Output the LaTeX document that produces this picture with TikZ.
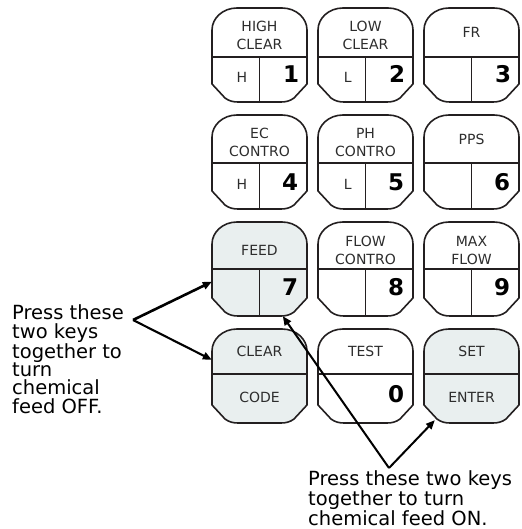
\documentclass[tikz,border=0pt]{standalone}
\usepackage{fontspec}
\setmainfont{DejaVu Sans}
\usetikzlibrary{calc,arrows.meta}
\definecolor{keyfill}{RGB}{233,239,239}
\definecolor{ink}{RGB}{35,31,32}
\definecolor{labelgray}{RGB}{45,45,45}
\tikzset{
  keybody/.style={minimum width=95pt,minimum height=94pt,inner sep=0pt,draw=none},
  keyline/.style={draw=ink,line width=1.6pt,line join=round},
  toplab/.style={font=\fontsize{14}{18}\selectfont,text=labelgray,align=center,inner sep=0pt,anchor=base},
  letlab/.style={font=\fontsize{14}{18}\selectfont,text=labelgray,inner sep=0pt,anchor=base},
  numlab/.style={font=\fontsize{23}{23}\selectfont\bfseries,text=black,inner sep=0pt,anchor=base east},
  callout/.style={font=\fontsize{19.5}{18.3}\selectfont,text=black,align=left,inner sep=0pt,anchor=base west},
  arr/.style={-{Triangle[length=9pt,width=7.5pt]},line width=2pt,draw=black}
}
% name, x, y (top-left), fill, divider offset
\newcommand\mykey[5]{%
  \node[keybody] (#1) at (#2+47.5,#3+47) {};
  \begin{scope}[shift={(#2,#3)}]
    \filldraw[keyline,fill=#4] (25,0) -- (70,0) .. controls (84,0) and (95,10) .. (95,22)
      -- (95,76) -- (82,90) .. controls (78,93) and (74,94) .. (69,94)
      -- (26,94) .. controls (21,94) and (17,93) .. (13,90)
      -- (0,76) -- (0,22) .. controls (0,10) and (11,0) .. (25,0) -- cycle;
    \draw[keyline] (0,#5) -- (95,#5);
  \end{scope}
}
\begin{document}
\begin{tikzpicture}[x=1pt,y=-1pt]
\useasboundingbox[fill=white] (0,0) rectangle (521,529);

% row 1
\mykey{k1}{212}{8}{white}{49}
\mykey{k2}{318}{8}{white}{49}
\mykey{k3}{424}{8}{white}{49}
% row 2
\mykey{k4}{212}{115}{white}{48}
\mykey{k5}{318}{115}{white}{48}
\mykey{k6}{424}{115}{white}{48}
% row 3
\mykey{k7}{212}{222}{keyfill}{47}
\mykey{k8}{318}{222}{white}{47}
\mykey{k9}{424}{222}{white}{47}
% row 4
\mykey{kc}{212}{329}{keyfill}{45}
\mykey{k0}{318}{329}{white}{45}
\mykey{ks}{424}{329}{keyfill}{45}

% vertical dividers
\foreach \k/\d in {k1/49,k2/49,k3/49,k4/48,k5/48,k6/48,k7/47,k8/47,k9/47}{
  \draw[keyline] ($(\k.north)+(0,\d)$) -- (\k.south);
}

% top labels (base = last line)
\node[toplab] (t1) at ($(k1.north)+(0,42)$) {HIGH\\CLEAR};
\node[toplab] (t2) at ($(k2.north)+(0,42)$) {LOW\\CLEAR};
\node[toplab] (t3) at ($(k3.north)+(0,30)$) {FR};
\node[toplab] (t4) at ($(k4.north)+(0,42)$) {EC\\CONTRO};
\node[toplab] (t5) at ($(k5.north)+(0,42)$) {PH\\CONTRO};
\node[toplab] (t6) at ($(k6.north)+(0,30)$) {PPS};
\node[toplab] (t7) at ($(k7.north)+(0,34)$) {FEED};
\node[toplab] (t8) at ($(k8.north)+(0,43)$) {FLOW\\CONTRO};
\node[toplab] (t9) at ($(k9.north)+(0,43)$) {MAX\\FLOW};
\node[toplab] (tc) at ($(kc.north)+(0,28)$) {CLEAR};
\node[toplab] (t0) at ($(k0.north)+(0,28)$) {TEST};
\node[toplab] (ts) at ($(ks.north)+(0,28)$) {SET};

% bottom-left letters
\node[letlab] (h1) at ($(k1.north west)+(30,75)$) {H};
\node[letlab] (l2) at ($(k2.north west)+(30,75)$) {L};
\node[letlab] (h4) at ($(k4.north west)+(30,75)$) {H};
\node[letlab] (l5) at ($(k5.north west)+(30,75)$) {L};
\node[letlab] (bc) at ($(kc.north)+(0,74)$) {CODE};
\node[letlab] (bs) at ($(ks.north)+(0,74)$) {ENTER};

% numbers
\node[numlab] (n1) at ($(k1.north east)+(-8,75)$) {1};
\node[numlab] (n2) at ($(k2.north east)+(-8,75)$) {2};
\node[numlab] (n3) at ($(k3.north east)+(-8,75)$) {3};
\node[numlab] (n4) at ($(k4.north east)+(-9,76)$) {4};
\node[numlab] (n5) at ($(k5.north east)+(-9,76)$) {5};
\node[numlab] (n6) at ($(k6.north east)+(-9,76)$) {6};
\node[numlab] (n7) at ($(k7.north east)+(-9,74)$) {7};
\node[numlab] (n8) at ($(k8.north east)+(-9,74)$) {8};
\node[numlab] (n9) at ($(k9.north east)+(-9,74)$) {9};
\node[numlab] (n0) at ($(k0.north east)+(-9,74)$) {0};

% callouts (base = last line)
\node[callout] (off) at (12,413) {Press these\\two keys\\together to\\turn\\chemical\\feed OFF.};
\node[callout] (on) at (308,525) {Press these two keys\\together to turn\\chemical feed ON.};

\coordinate (voff) at (133,320);
\draw[arr,line width=2.6pt] (voff) -- ($(k7.north west)+(0,60)$);
\draw[arr,line width=2.1pt] (voff) -- ($(kc.north west)+(0,31)$);
\coordinate (von) at (389,468);
\draw[arr] (von) -- ($(k7.south west)+(71,0)$);
\draw[arr] (von) -- ($(ks.south west)+(11,-3)$);
\end{tikzpicture}
\end{document}
